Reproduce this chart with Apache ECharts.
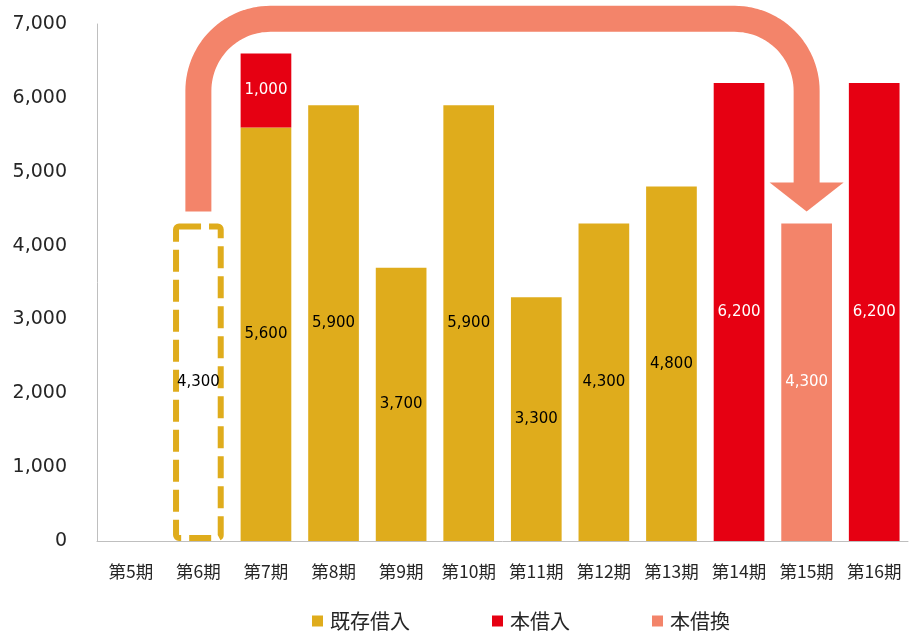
<!DOCTYPE html>
<html><head><meta charset="utf-8">
<script src="https://cdn.jsdelivr.net/npm/echarts@6/dist/echarts.min.js"></script>
<style>html,body{margin:0;padding:0;background:#fff}#c{width:910px;height:635px}</style>
</head><body><div id="c"></div>
<script>
// ---- data ----
const categories = ['第5期','第6期','第7期','第8期','第9期','第10期','第11期','第12期','第13期','第14期','第15期','第16期'];
const existingLoans = [null, 4300, 5600, 5900, 3700, 5900, 3300, 4300, 4800, null, null, null];
const newLoans      = [null, null, 1000, null, null, null, null, null, null, 6200, null, 6200];
const refinanceLoans= [null, null, null, null, null, null, null, null, null, null, 4300, null];
const seriesNames = ['既存借入', '本借入', '本借換'];
const plannedCategory = '第6期';      // dashed (to be refinanced) bar
const yMin = 0, yMax = 7000, yStep = 1000;
const arrowFrom = '第6期', arrowTo = '第15期';
const arrowStartValue = 4460, arrowTopValue = 7070, arrowTipValue = 4460;

// ---- style ----
const GOLD = '#DFAC1C', RED = '#E60012', SALMON = '#F3846A';
const TXT = '#262626';
const numFmt = v => (v == null ? '' : Number(v).toLocaleString('en-US'));

const chart = echarts.init(document.getElementById('c'), null, {renderer: 'canvas'});

const goldData = existingLoans.map((v, i) => {
  if (categories[i] === plannedCategory) {
    return {value: v, itemStyle: {color: '#ffffff', borderColor: GOLD, borderWidth: 6, borderType: [22, 8], borderRadius: 3}};
  }
  return v;
});

const barLabel = (color) => ({
  show: true, position: 'inside', color: color,
  fontFamily: 'DejaVu Sans', fontSize: 15,
  formatter: p => numFmt(p.value)
});

chart.setOption({
  animation: false,
  grid: {left: 97, right: 2, top: 24, bottom: 94, containLabel: false},
  legend: {
    data: seriesNames, left: 307, top: 606, itemWidth: 11, itemHeight: 11, itemGap: 82, icon: 'rect',
    textStyle: {fontFamily: 'Noto Sans CJK JP', fontSize: 20, color: TXT, padding: [0, 0, 0, 2]}
  },
  xAxis: {
    type: 'category', data: categories,
    axisLine: {show: true, lineStyle: {color: '#bfbfbf', width: 1}},
    axisTick: {show: false},
    axisLabel: {fontFamily: 'Noto Sans CJK JP', fontSize: 17.5, color: TXT, margin: 22, interval: 0}
  },
  yAxis: {
    type: 'value', min: yMin, max: yMax, interval: yStep,
    axisLine: {show: true, lineStyle: {color: '#bfbfbf', width: 1}},
    axisTick: {show: false},
    splitLine: {show: false},
    axisLabel: {fontFamily: 'DejaVu Sans', fontSize: 19, color: TXT, margin: 30, formatter: v => numFmt(v)}
  },
  series: [
    {name: seriesNames[0], type: 'bar', stack: 'a', barWidth: '75%', data: goldData,
     itemStyle: {color: GOLD}, label: barLabel('#000')},
    {name: seriesNames[1], type: 'bar', stack: 'a', barWidth: '75%', data: newLoans,
     itemStyle: {color: RED}, label: barLabel('#fff')},
    {name: seriesNames[2], type: 'bar', stack: 'a', barWidth: '75%', data: refinanceLoans,
     itemStyle: {color: SALMON}, label: barLabel('#fff')},
    {type: 'custom', coordinateSystem: 'cartesian2d', silent: true, z: 5, clip: false,
     data: [[arrowFrom, arrowStartValue]],
     renderItem: function (params, api) {
       const s = api.coord([arrowFrom, arrowStartValue]);
       const t = api.coord([arrowFrom, arrowTopValue]);
       const e = api.coord([arrowTo, arrowTipValue]);
       const x1 = s[0], x2 = e[0], y0 = s[1], yTop = t[1], yTip = e[1];
       const r = 72, headH = 29, headW = 74;
       const yBase = yTip - headH;
       const pts = [[x1, y0], [x1, yTop + r]];
       for (let k = 1; k < 30; k++) {
         const a = Math.PI + (Math.PI / 2) * k / 30;
         pts.push([x1 + r + r * Math.cos(a), yTop + r + r * Math.sin(a)]);
       }
       pts.push([x1 + r, yTop], [x2 - r, yTop]);
       for (let k = 1; k < 30; k++) {
         const a = -Math.PI / 2 + (Math.PI / 2) * k / 30;
         pts.push([x2 - r + r * Math.cos(a), yTop + r + r * Math.sin(a)]);
       }
       pts.push([x2, yTop + r], [x2, yBase + 1]);
       return {type: 'group', children: [
         {type: 'polyline', shape: {points: pts}, style: {fill: 'none', stroke: SALMON, lineWidth: 26, lineJoin: 'round', lineCap: 'butt'}},
         {type: 'polygon', shape: {points: [[x2 - headW / 2, yBase], [x2 + headW / 2, yBase], [x2, yTip]]}, style: {fill: SALMON}}
       ]};
     }}
  ]
});
</script>
</body></html>
